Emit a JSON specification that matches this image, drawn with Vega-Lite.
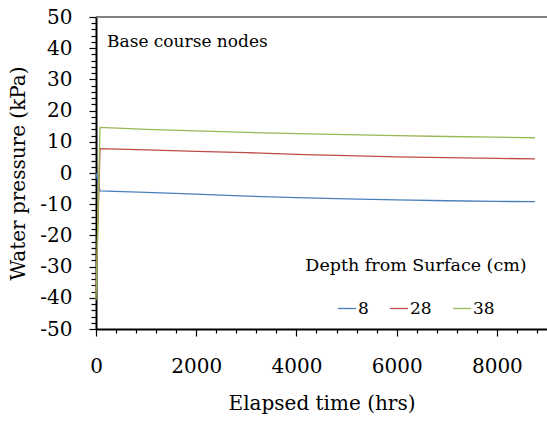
{
  "$schema": "https://vega.github.io/schema/vega-lite/v6.json",
  "width": 451,
  "height": 312,
  "autosize": {"type": "none"},
  "padding": {"left": 96, "top": 17, "right": 0, "bottom": 94},
  "background": "white",
  "config": {
    "view": {"stroke": null},
    "font": "DejaVu Serif",
    "axis": {"labelFont": "DejaVu Serif", "titleFont": "DejaVu Serif", "labelColor": "black", "titleColor": "black", "titleFontWeight": "normal", "domainColor": "black", "tickColor": "black", "grid": false}
  },
  "data": {
    "values": [
      {"t": 0, "p": 0, "depth": "8"},
      {"t": 80, "p": -5.7, "depth": "8"},
      {"t": 1000, "p": -6.2, "depth": "8"},
      {"t": 2000, "p": -6.8, "depth": "8"},
      {"t": 3000, "p": -7.4, "depth": "8"},
      {"t": 4000, "p": -7.9, "depth": "8"},
      {"t": 5000, "p": -8.3, "depth": "8"},
      {"t": 6000, "p": -8.6, "depth": "8"},
      {"t": 7000, "p": -8.9, "depth": "8"},
      {"t": 8000, "p": -9.1, "depth": "8"},
      {"t": 8760, "p": -9.2, "depth": "8"},
      {"t": 0, "p": -38.5, "depth": "28"},
      {"t": 80, "p": 7.8, "depth": "28"},
      {"t": 1000, "p": 7.4, "depth": "28"},
      {"t": 2000, "p": 6.9, "depth": "28"},
      {"t": 3000, "p": 6.5, "depth": "28"},
      {"t": 4000, "p": 6.0, "depth": "28"},
      {"t": 5000, "p": 5.6, "depth": "28"},
      {"t": 6000, "p": 5.2, "depth": "28"},
      {"t": 7000, "p": 4.9, "depth": "28"},
      {"t": 8000, "p": 4.7, "depth": "28"},
      {"t": 8760, "p": 4.5, "depth": "28"},
      {"t": 0, "p": -40.7, "depth": "38"},
      {"t": 80, "p": 14.6, "depth": "38"},
      {"t": 1000, "p": 14.0, "depth": "38"},
      {"t": 2000, "p": 13.5, "depth": "38"},
      {"t": 3000, "p": 13.0, "depth": "38"},
      {"t": 4000, "p": 12.6, "depth": "38"},
      {"t": 5000, "p": 12.3, "depth": "38"},
      {"t": 6000, "p": 12.0, "depth": "38"},
      {"t": 7000, "p": 11.7, "depth": "38"},
      {"t": 8000, "p": 11.5, "depth": "38"},
      {"t": 8760, "p": 11.3, "depth": "38"}
    ]
  },
  "resolve": {"axis": {"x": "independent", "y": "independent"}},
  "layer": [
    {
      "mark": {"type": "line", "opacity": 0, "strokeWidth": 0},
      "encoding": {
        "x": {
          "field": "t", "type": "quantitative",
          "scale": {"domain": [0, 9000], "nice": false, "zero": false},
          "axis": {
            "orient": "bottom", "title": null, "labels": false, "domain": false,
            "values": [400,800,1200,1600,2400,2800,3200,3600,4400,4800,5200,5600,6400,6800,7200,7600,8400,8800],
            "tickSize": 4, "tickWidth": 1.2, "tickColor": "black"
          }
        },
        "y": {
          "field": "p", "type": "quantitative",
          "scale": {"domain": [-50, 50], "nice": false},
          "axis": {
            "orient": "left", "title": null, "labels": false, "domain": false,
            "values": [-48,-46,-44,-42,-38,-36,-34,-32,-28,-26,-24,-22,-18,-16,-14,-12,-8,-6,-4,-2,2,4,6,8,12,14,16,18,22,24,26,28,32,34,36,38,42,44,46,48],
            "tickSize": 5, "tickWidth": 1.2, "tickColor": "black"
          }
        }
      }
    },
    {
      "data": {"values": [{}]},
      "mark": {"type": "rule", "color": "#595959", "strokeWidth": 1.5},
      "encoding": {"y": {"datum": 50, "type": "quantitative", "axis": null}}
    },
    {
      "mark": {"type": "line", "strokeWidth": 1.3},
      "encoding": {
        "x": {
          "field": "t", "type": "quantitative",
          "axis": {
            "orient": "bottom",
            "title": "Elapsed time (hrs)", "titleFontSize": 20, "labelFontSize": 20,
            "values": [0, 2000, 4000, 6000, 8000],
            "format": "d",
            "tickSize": 7, "domainWidth": 2, "tickWidth": 1.2,
            "labelPadding": 20, "titlePadding": 17, "labelFlush": false, "labelOverlap": false
          }
        },
        "y": {
          "field": "p", "type": "quantitative",
          "axis": {
            "orient": "left",
            "title": "Water pressure (kPa)", "titleFontSize": 20, "labelFontSize": 20,
            "values": [-50, -40, -30, -20, -10, 0, 10, 20, 30, 40, 50],
            "labelExpr": "'' + datum.value",
            "tickSize": 7, "domainWidth": 2, "tickWidth": 1.2,
            "labelPadding": 17, "titlePadding": 11, "labelFlush": false, "labelOverlap": false
          }
        },
        "color": {
          "field": "depth", "type": "nominal",
          "scale": {"domain": ["8", "28", "38"], "range": ["#4a7ebb", "#be4b48", "#98b954"]},
          "legend": {
            "title": "Depth from Surface (cm)",
            "orient": "none", "legendX": 209, "legendY": 240,
            "direction": "horizontal",
            "titleFont": "DejaVu Serif", "titleFontSize": 17.5, "titleFontWeight": "normal", "titleColor": "black", "titleLimit": 400,
            "titleAnchor": "middle", "titlePadding": 24,
            "labelFont": "DejaVu Serif", "labelFontSize": 17, "labelColor": "black",
            "symbolType": "stroke", "symbolSize": 324, "symbolStrokeWidth": 1.3,
            "labelOffset": 1, "columnPadding": 18
          }
        }
      }
    },
    {
      "data": {"values": [{}]},
      "mark": {"type": "text", "align": "left", "baseline": "middle", "fontSize": 17, "font": "DejaVu Serif", "color": "black"},
      "encoding": {
        "x": {"datum": 220, "type": "quantitative", "axis": null},
        "y": {"datum": 42, "type": "quantitative", "axis": null},
        "text": {"value": "Base course nodes"}
      }
    }
  ]
}
